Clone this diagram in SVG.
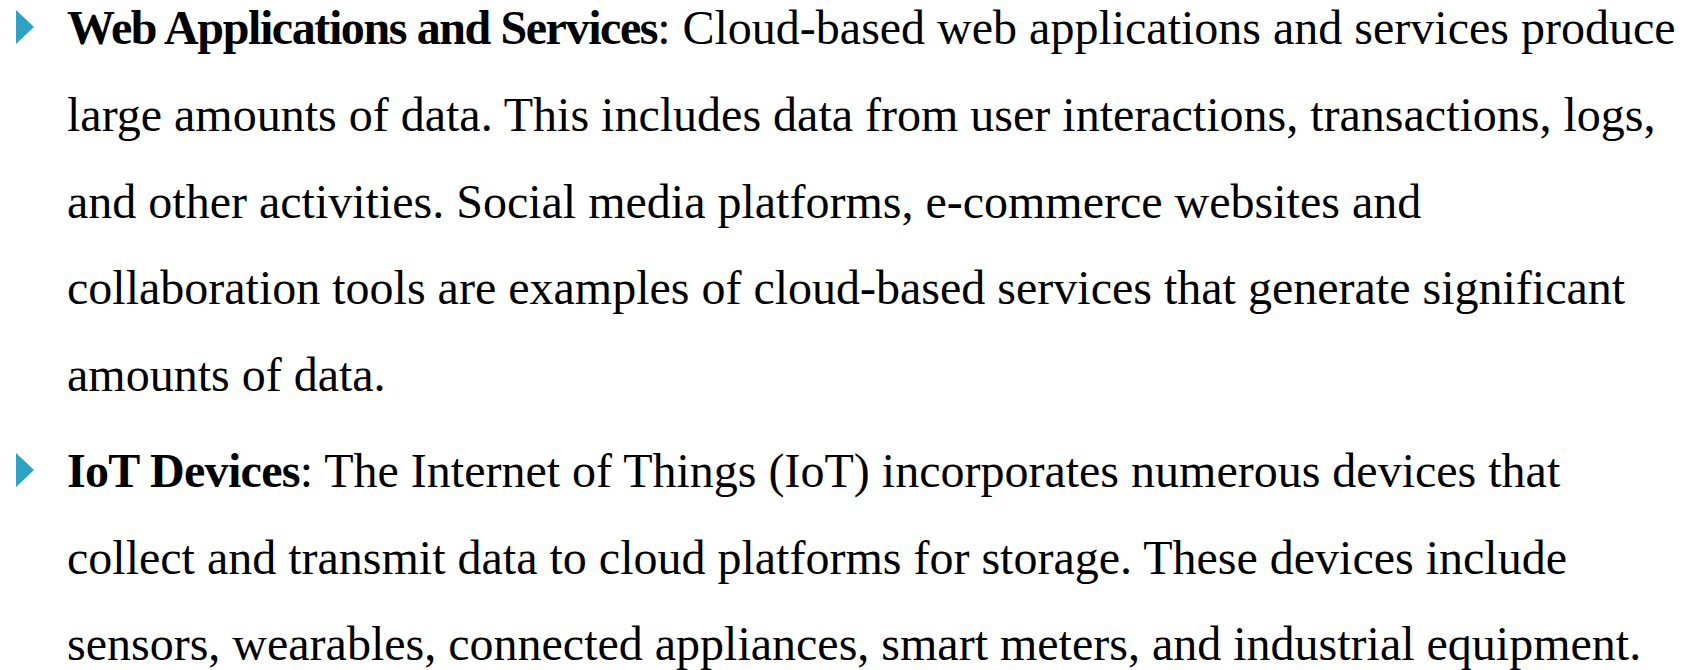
<svg xmlns="http://www.w3.org/2000/svg" width="1696" height="670" viewBox="0 0 1696 670">
<style>
.t{font-family:"Liberation Serif","Times New Roman",serif;font-size:48px;fill:#000}
.b{font-weight:bold;letter-spacing:-1.4px}
.b2{font-weight:bold;letter-spacing:-0.7px}
.bul{fill:#2EA2C2}
</style>
<rect width="1696" height="670" fill="#fff"/>
<g id="item1">
<polygon class="bul" points="16,10 34,27 16,44"/>
<text class="t" x="67" y="44"><tspan class="b">Web Applications and Services</tspan>: Cloud-based web applications and services produce</text>
<text class="t" x="67" y="131">large amounts of data. This includes data from user interactions, transactions, logs,</text>
<text class="t" x="67" y="217.5">and other activities. Social media platforms, e-commerce websites and</text>
<text class="t" x="67" y="304">collaboration tools are examples of cloud-based services that generate significant</text>
<text class="t" x="67" y="391">amounts of data.</text>
</g>
<g id="item2">
<polygon class="bul" points="16,453 34,470 16,487"/>
<text class="t" x="67" y="487"><tspan class="b2">IoT Devices</tspan>: The Internet of Things (IoT) incorporates numerous devices that</text>
<text class="t" x="67" y="574">collect and transmit data to cloud platforms for storage. These devices include</text>
<text class="t" x="67" y="660">sensors, wearables, connected appliances, smart meters, and industrial equipment.</text>
</g>
</svg>
